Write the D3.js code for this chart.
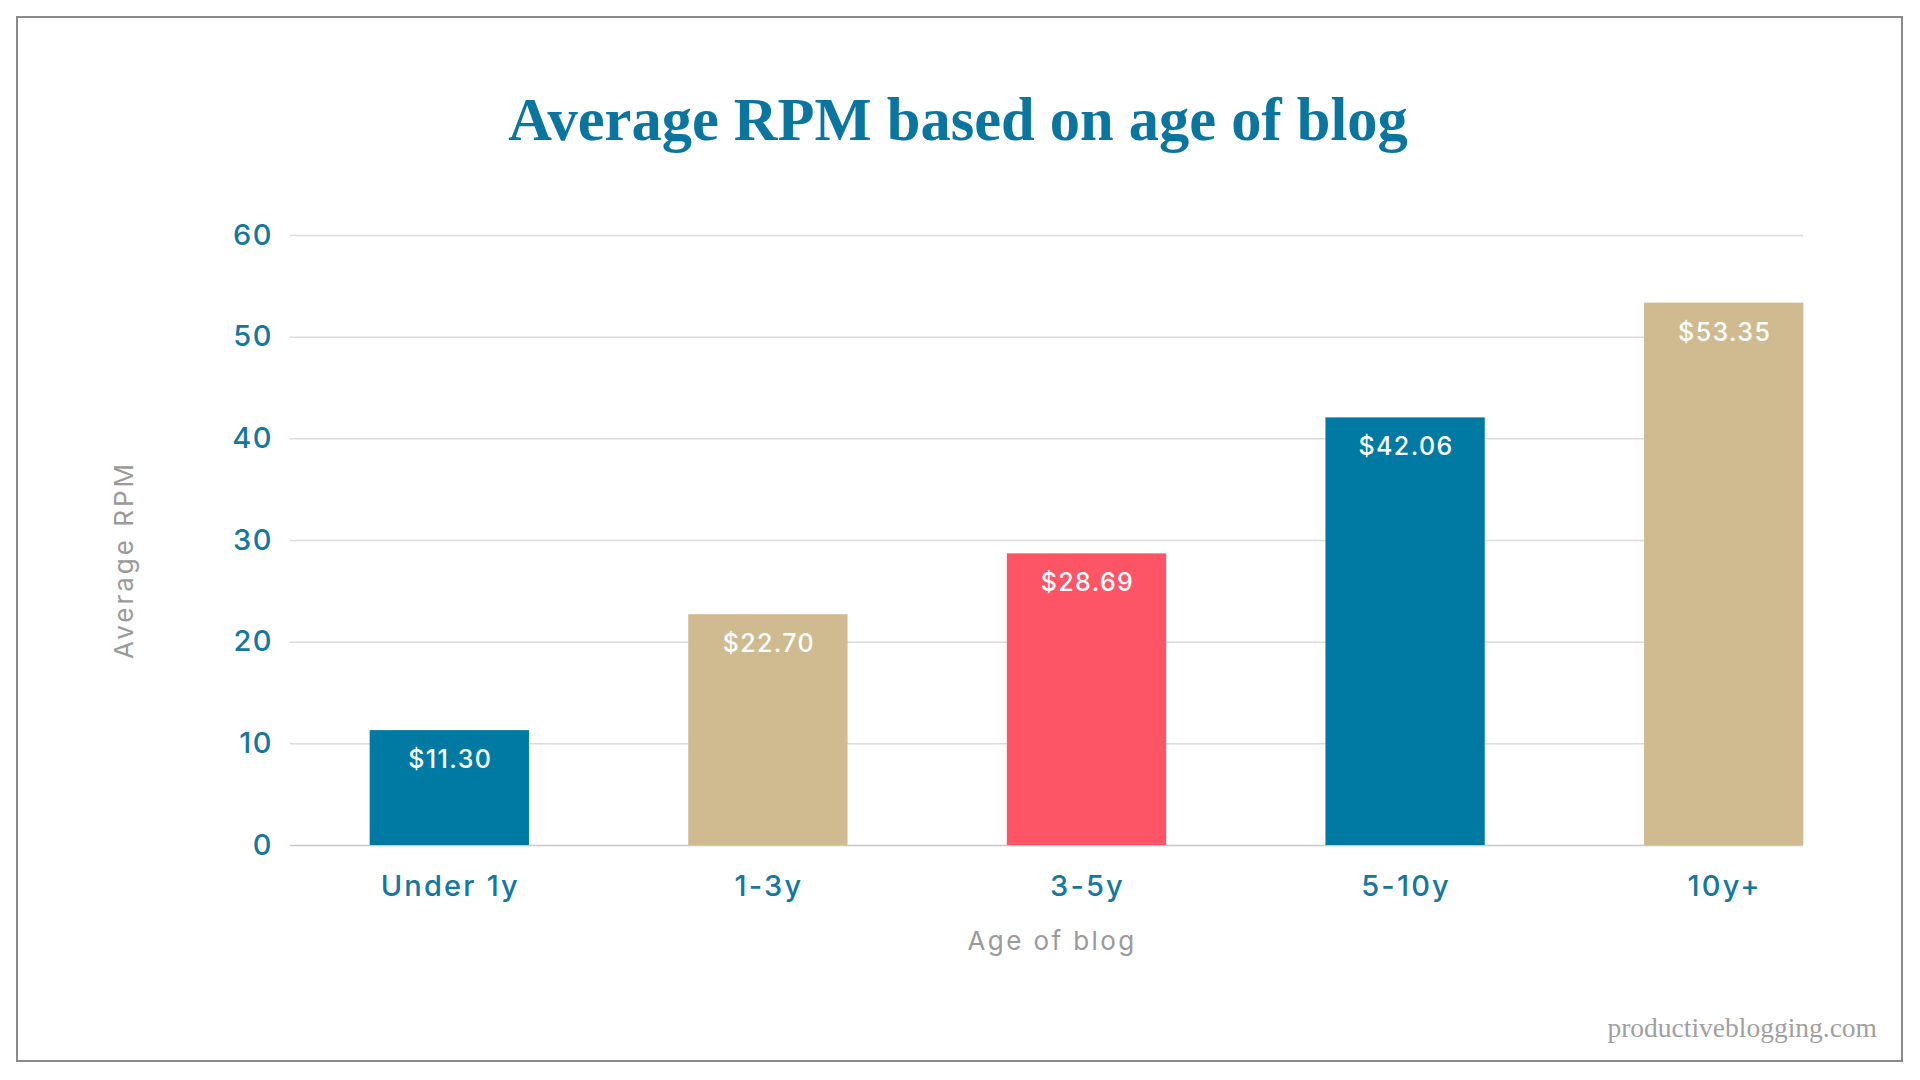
<!DOCTYPE html>
<html>
<head>
<meta charset="utf-8">
<script src="https://cdn.jsdelivr.net/npm/d3@7"></script>
<style>
  body { margin: 0; background: #fff; }
</style>
</head>
<body>
<div class="canvas"></div>
<script>
// data
const categories = ['Under 1y', '1-3y', '3-5y', '5-10y', '10y+'];
const rpm = [11.30, 22.70, 28.69, 42.06, 53.35];
const yTicks = [0, 10, 20, 30, 40, 50, 60];
const barColors = ['#0079a3', '#cfbb8f', '#fe5566', '#0079a3', '#cfbb8f'];

const width = 1920;
const height = 1080;

const svg = d3.select('.canvas')
    .append('svg')
    .attr('width', width)
    .attr('height', height);

// frame round the picture
svg.append('rect')
    .attr('x', 17)
    .attr('y', 17)
    .attr('width', 1885)
    .attr('height', 1044)
    .attr('fill', 'none')
    .attr('stroke', '#8a8a8a')
    .attr('stroke-width', 2);

const plot = { left: 290, right: 1883, top: 235, bottom: 845, gridEnd: 1803 };

const y = d3.scaleLinear()
    .domain([0, 60])
    .range([plot.bottom, plot.top]);

const x = d3.scaleBand()
    .domain(categories)
    .range([plot.left, plot.right])
    .paddingInner(0.5)
    .paddingOuter(0.25);

const sans = 'Inter, "Open Sans", sans-serif';
const teal = '#13789e';

// y axis with gridlines
const yAxisGroup = svg.append('g')
    .attr('transform', `translate(${plot.left}, 0)`);

yAxisGroup.call(d3.axisLeft(y)
    .tickValues(yTicks)
    .tickSize(-(plot.gridEnd - plot.left))
    .tickPadding(17));

yAxisGroup.select('.domain').remove();
yAxisGroup.selectAll('line')
    .attr('stroke', d => d === 0 ? '#c8c8c8' : '#dcdcdc')
    .attr('stroke-width', 1.5);
yAxisGroup.selectAll('text')
    .attr('fill', teal)
    .attr('font-family', sans)
    .attr('font-weight', 500)
    .attr('font-size', '29px')
    .attr('letter-spacing', '1.5px');

// bars
svg.selectAll('rect.bar')
    .data(rpm)
    .enter()
    .append('rect')
    .attr('class', 'bar')
    .attr('x', (d, i) => x(categories[i]))
    .attr('y', d => y(d))
    .attr('width', x.bandwidth())
    .attr('height', d => y(0) - y(d))
    .attr('fill', (d, i) => barColors[i]);

// value labels inside bars
svg.selectAll('text.value')
    .data(rpm)
    .enter()
    .append('text')
    .attr('class', 'value')
    .attr('x', (d, i) => x(categories[i]) + x.bandwidth() / 2 + 1)
    .attr('y', d => y(d) + 38)
    .attr('text-anchor', 'middle')
    .attr('fill', '#fff')
    .attr('font-family', sans)
    .attr('font-weight', 500)
    .attr('font-size', '25px')
    .attr('letter-spacing', '1.4px')
    .text(d => '$' + d.toFixed(2));

// x axis
const xAxisGroup = svg.append('g')
    .attr('transform', `translate(0, ${plot.bottom})`);

xAxisGroup.call(d3.axisBottom(x).tickSize(0));
xAxisGroup.select('.domain').remove();
xAxisGroup.selectAll('text')
    .attr('y', 51)
    .attr('dy', 0)
    .attr('dx', 1)
    .attr('fill', teal)
    .attr('font-family', sans)
    .attr('font-weight', 500)
    .attr('font-size', '29px')
    .attr('letter-spacing', '2.2px');

// axis titles
svg.append('text')
    .attr('x', 1052)
    .attr('y', 950)
    .attr('text-anchor', 'middle')
    .attr('fill', '#9a9a9a')
    .attr('font-family', sans)
    .attr('font-size', '26px')
    .attr('letter-spacing', '2.4px')
    .text('Age of blog');

svg.append('text')
    .attr('transform', 'translate(133, 560) rotate(-90)')
    .attr('text-anchor', 'middle')
    .attr('fill', '#9a9a9a')
    .attr('font-family', sans)
    .attr('font-size', '26px')
    .attr('letter-spacing', '3px')
    .text('Average RPM');

// title, sized to the width it has in the picture
const title = svg.append('text')
    .attr('x', 958)
    .attr('y', 140)
    .attr('text-anchor', 'middle')
    .attr('fill', '#0a76a0')
    .attr('font-family', '"Liberation Serif", "DejaVu Serif", serif')
    .attr('font-weight', 'bold')
    .attr('font-size', '60px')
    .text('Average RPM based on age of blog');

const titleLen = title.node().getComputedTextLength();
title.attr('font-size', (60 * 900 / titleLen).toFixed(1) + 'px');

// watermark
svg.append('text')
    .attr('x', 1877)
    .attr('y', 1037)
    .attr('text-anchor', 'end')
    .attr('fill', '#a0a0a0')
    .attr('font-family', '"Liberation Serif", "DejaVu Serif", serif')
    .attr('font-size', '27.5px')
    .text('productiveblogging.com');
</script>
</body>
</html>
